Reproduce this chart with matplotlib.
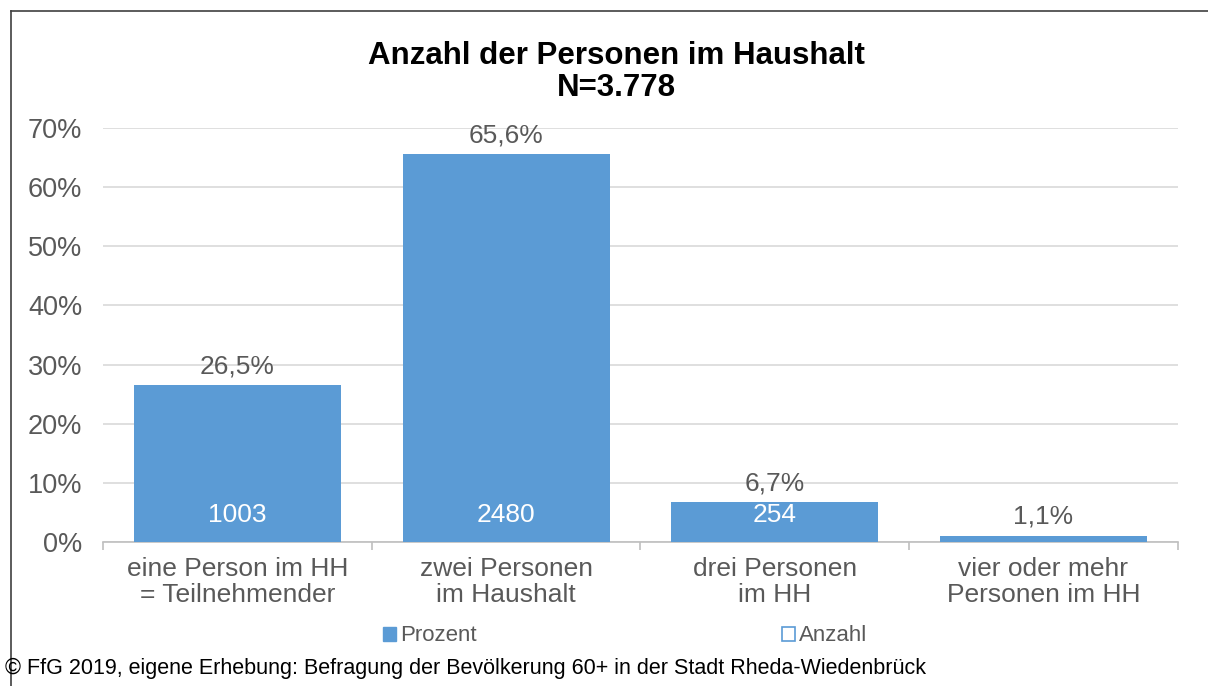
import matplotlib
matplotlib.use("Agg")
import matplotlib.pyplot as plt
from matplotlib.patches import Patch
from matplotlib.lines import Line2D

plt.rcParams["font.family"] = ["Liberation Sans", "DejaVu Sans"]

categories = ["eine Person im HH\n= Teilnehmender", "zwei Personen\nim Haushalt",
              "drei Personen\nim HH", "vier oder mehr\nPersonen im HH"]
prozent = [26.5, 65.6, 6.7, 1.1]
anzahl = [1003, 2480, 254, None]
yticks = [0, 10, 20, 30, 40, 50, 60, 70]

blue = "#5B9BD5"
gray = "#595959"

fig = plt.figure(figsize=(12.08, 6.86), dpi=100)
ax = fig.add_axes([0.0853, 0.2099, 0.8897, 0.6035])

x = range(len(categories))
bars = ax.bar(x, prozent, width=0.77, color=blue, zorder=3)

for i, b in enumerate(bars):
    ax.annotate(f"{prozent[i]:.1f}%".replace(".", ","),
                (b.get_x() + b.get_width() / 2, b.get_height()),
                xytext=(0, 5), textcoords="offset points",
                ha="center", va="bottom", fontsize=19, color=gray)
    if anzahl[i] is not None:
        ax.text(b.get_x() + b.get_width() / 2, 4.5, str(anzahl[i]),
                ha="center", va="center", fontsize=19, color="white", zorder=4)

ax.set_ylim(0, 70)
ax.set_xlim(-0.5, 3.5)
ax.set_yticks(yticks)
ax.set_yticklabels([f"{t}%" for t in yticks], fontsize=19.5, color=gray)
ax.tick_params(axis="y", length=0, pad=15)
ax.yaxis.grid(True, color="#D9D9D9", linewidth=1.2, zorder=0)

ax.set_xticks(list(x))
ax.set_xticklabels(categories, fontsize=19, color=gray, linespacing=1.1)
ax.set_xticks([-0.5, 0.5, 1.5, 2.5, 3.5], minor=True)
ax.tick_params(axis="x", which="major", length=0, pad=11)
ax.tick_params(axis="x", which="minor", length=6, color="#BFBFBF", width=1.2)

for s in ["top", "right", "left"]:
    ax.spines[s].set_visible(False)
ax.spines["bottom"].set_color("#BFBFBF")
ax.spines["bottom"].set_linewidth(1.2)

fig.text(0.51, 0.895, "Anzahl der Personen im Haushalt\nN=3.778", ha="center", va="center",
         fontsize=22.5, fontweight="bold", linespacing=1.1)

handles = [Patch(facecolor=blue, edgecolor=blue),
           Patch(facecolor="white", edgecolor=blue, linewidth=1.2)]
fig.legend(handles, ["Prozent", "Anzahl"], ncol=2, loc="center",
           bbox_to_anchor=(0.5175, 0.073), frameon=False, fontsize=16,
           handlelength=0.6, handleheight=0.6, handletextpad=0.2,
           columnspacing=13.7, labelcolor=gray)

fig.text(0.004, 0.026,
         "© FfG 2019, eigene Erhebung: Befragung der Bevölkerung 60+ in der Stadt Rheda-Wiedenbrück",
         ha="left", va="center", fontsize=15.5, color="black")

fig.add_artist(Line2D([0.0091, 0.0091], [0, 0.984], color="#404040", linewidth=1.2))
fig.add_artist(Line2D([0.0091, 1.0], [0.984, 0.984], color="#404040", linewidth=1.2))

fig.savefig("out.png", dpi=100)
